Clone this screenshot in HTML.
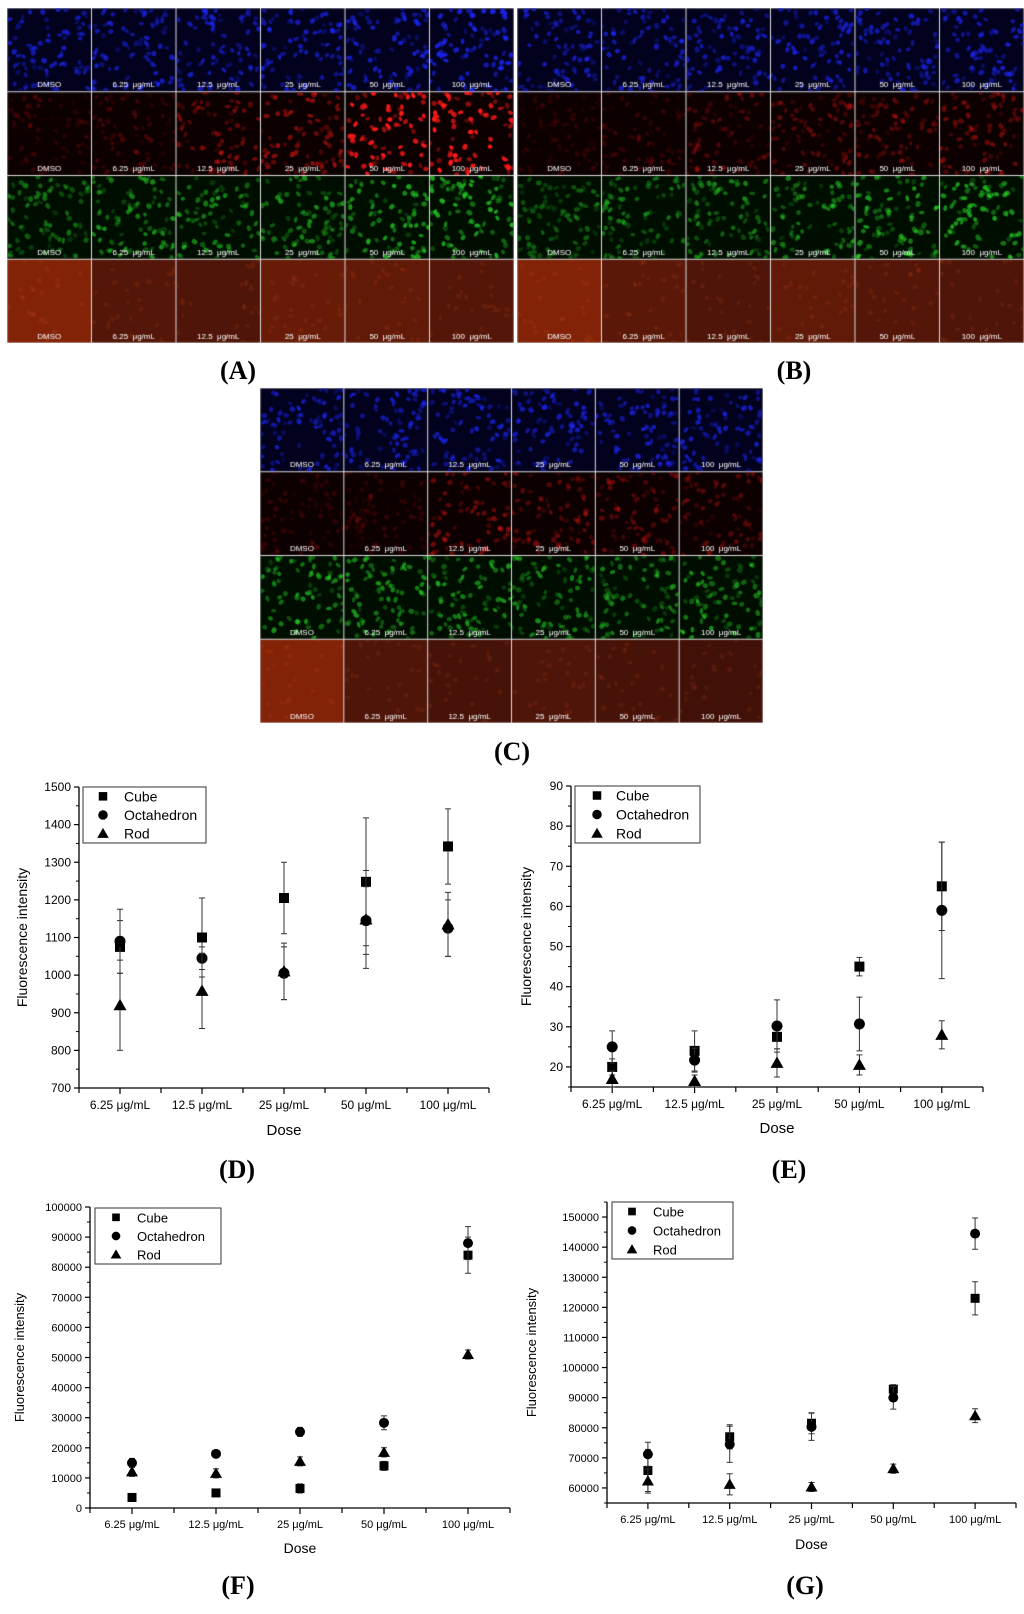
<!DOCTYPE html>
<html><head><meta charset="utf-8">
<style>
html,body{margin:0;padding:0;background:#fff;}
#root{position:relative;width:1024px;height:1614px;overflow:hidden;background:#fff;}
canvas{position:absolute;}
.lbl{position:absolute;font-family:"Liberation Serif",serif;font-weight:bold;font-size:26px;color:#000;transform:translateX(-50%);}
svg{position:absolute;left:0;top:0;}
</style></head>
<body>
<div id="root">
<canvas id="gA" style="left:7px;top:8px" width="507" height="335"></canvas>
<canvas id="gB" style="left:517px;top:8px" width="507" height="335"></canvas>
<canvas id="gC" style="left:260px;top:388px" width="503" height="335"></canvas>
<div class="lbl" style="left:238px;top:356px">(A)</div>
<div class="lbl" style="left:794px;top:356px">(B)</div>
<div class="lbl" style="left:512px;top:737px">(C)</div>
<div class="lbl" style="left:237px;top:1155px">(D)</div>
<div class="lbl" style="left:789px;top:1155px">(E)</div>
<div class="lbl" style="left:238px;top:1571px">(F)</div>
<div class="lbl" style="left:805px;top:1571px">(G)</div>
<svg id="charts" width="1024" height="1614"></svg>
</div>
<script>
// ---------- chart data ----------
const categories = ["6.25 μg/mL","12.5 μg/mL","25 μg/mL","50 μg/mL","100 μg/mL"];
const seriesNames = ["Cube","Octahedron","Rod"];
// Chart D
const dCube = [1075,1100,1205,1248,1342];
const dCubeErr = [70,105,95,170,100];
const dOcta = [1090,1045,1005,1145,1125];
const dOctaErr = [85,30,70,90,75];
const dRod = [920,958,1010,1148,1135];
const dRodErr = [120,100,75,130,85];
const dTicks = [700,800,900,1000,1100,1200,1300,1400,1500];
// Chart E
const eCube = [20,24,27.5,45,65];
const eCubeErr = [2,5,3,2.3,11];
const eOcta = [25,21.7,30.2,30.7,59];
const eOctaErr = [4,3,6.5,6.7,17];
const eRod = [17,16.5,21,20.5,28];
const eRodErr = [2,1.5,3.5,2.5,3.5];
const eTicks = [20,30,40,50,60,70,80,90];
// Chart F
const fCube = [3500,5000,6500,14000,84000];
const fCubeErr = [1000,1200,1500,1500,6000];
const fOcta = [15000,18000,25300,28300,88000];
const fOctaErr = [1500,1000,1500,2300,5500];
const fRod = [12000,11500,15500,18500,51000];
const fRodErr = [1500,1500,1500,1500,1500];
const fTicks = [0,10000,20000,30000,40000,50000,60000,70000,80000,90000,100000];
// Chart G
const gCube = [65800,77000,81500,92800,123000];
const gCubeErr = [7000,4000,3500,1500,5500];
const gOcta = [71200,74500,80300,90000,144500];
const gOctaErr = [4000,6000,4500,3800,5200];
const gRod = [62300,61200,60300,66400,84000];
const gRodErr = [4000,3500,1500,1500,2300];
const gTicks = [60000,70000,80000,90000,100000,110000,120000,130000,140000,150000];

const NS="http://www.w3.org/2000/svg";
const svg=document.getElementById('charts');
function mk(tag,attrs,parent){const e=document.createElementNS(NS,tag);for(const k in attrs)e.setAttribute(k,attrs[k]);(parent||svg).appendChild(e);return e;}

function chart(id,L,R,T,B,ymin,ymax,ticks,minorStep,cube,cubeE,octa,octaE,rod,rodE,o){
  const g=mk('g',{});
  
  
  const fs=o.fs, ff=o.narrow?'"Liberation Sans Narrow","Liberation Sans",sans-serif':'"Liberation Sans",sans-serif';
  const y=v=>B-(v-ymin)/(ymax-ymin)*(B-T);
  const band=(R-L)/categories.length;
  const x=i=>L+band*(i+0.5);
  const ax=mk('path',{d:`M${L},${T}V${B}H${R}`,stroke:'#000','stroke-width':1.3,fill:'none'},g);
  
  
  ticks.forEach(t=>{
    const yy=y(t);
    mk('line',{x1:L-5,x2:L,y1:yy,y2:yy,stroke:'#000','stroke-width':1.2},g);
    const tx=mk('text',{x:L-8,y:yy+4,'text-anchor':'end','font-size':fs,'font-family':ff,fill:'#000'},g);
    tx.textContent=t;
    
    
  });
  for(let v=Math.ceil(ymin/minorStep)*minorStep; v<=ymax+1e-9; v+=minorStep){
    if(ticks.some(t=>Math.abs(t-v)<1e-6))continue;
    const yy=y(v);mk('line',{x1:L-3,x2:L,y1:yy,y2:yy,stroke:'#000','stroke-width':1},g);
  }
  for(let i=0;i<=categories.length;i++){const xx=L+band*i;mk('line',{x1:xx,x2:xx,y1:B,y2:B+5,stroke:'#000','stroke-width':1.2},g);}
  categories.forEach((c,i)=>{
    mk('line',{x1:x(i),x2:x(i),y1:B,y2:B+6,stroke:'#000','stroke-width':1.2},g);
    const tx=mk('text',{x:x(i),y:B+o.tickDy,'text-anchor':'middle','font-size':fs,'font-family':ff,fill:'#000'},g);
    tx.textContent=c;
    
    
  });
  const xt=mk('text',{x:(L+R)/2,y:B+o.titleDy,'text-anchor':'middle','font-size':fs+3,'font-family':ff,fill:'#000'},g);
  xt.textContent='Dose';
  
  
  const yt=mk('text',{x:0,y:0,transform:`translate(${o.ytx},${(T+B)/2}) rotate(-90)`,'text-anchor':'middle','font-size':fs+2,'font-family':ff,fill:'#000'},g);
  yt.textContent='Fluorescence intensity';
  
  
  const ser=[[cube,cubeE,'sq'],[octa,octaE,'ci'],[rod,rodE,'tr']];
  ser.forEach(([vals,errs,shape],si)=>{
    vals.forEach((v,i)=>{
      const cx=x(i),cy=y(v),hi=y(v+errs[i]),lo=y(Math.max(v-errs[i],ymin));
      const eb=mk('path',{d:`M${cx},${hi}V${lo}M${cx-3},${hi}H${cx+3}M${cx-3},${y(v-errs[i])}H${cx+3}`,stroke:'#333','stroke-width':1},g);
      
      
      marker(g,shape,cx,cy,o.ms);
    });
  });
  const [lx,ly,lw,lh]=o.leg;
  const lb=mk('rect',{x:lx,y:ly,width:lw,height:lh,fill:'#fff',stroke:'#333','stroke-width':1},g);
  
  
  ['sq','ci','tr'].forEach((s,k)=>{
    const yy=ly+lh*(k+0.5)/3;
    marker(g,s,lx+o.legM,yy,o.ms*0.85);
    const tx=mk('text',{x:lx+o.legT,y:yy+5,'font-size':fs+2,'font-family':ff,fill:'#000'},g);
    tx.textContent=seriesNames[k];
    
    
  });
}
function marker(g,s,cx,cy,r){
  let m;
  if(s==='sq')m=mk('rect',{x:cx-r,y:cy-r,width:2*r,height:2*r,fill:'#000'},g);
  else if(s==='ci')m=mk('circle',{cx:cx,cy:cy,r:r+0.5,fill:'#000'},g);
  else m=mk('path',{d:`M${cx},${cy-r-1.5}L${cx+r+1.5},${cy+r}L${cx-r-1.5},${cy+r}Z`,fill:'#000'},g);
  
  
}
chart('d',79,489,787,1088,700,1500,dTicks,50,dCube,dCubeErr,dOcta,dOctaErr,dRod,dRodErr,
  {fs:12,tickDy:21,titleDy:47,ytx:27,ms:5,leg:[83,787,123,56],legM:20,legT:41});
chart('e',571,983,786,1087,15,90,eTicks,5,eCube,eCubeErr,eOcta,eOctaErr,eRod,eRodErr,
  {fs:12,tickDy:21,titleDy:46,ytx:531,ms:5,leg:[575,786,125,57],legM:22,legT:41});
chart('f',90,510,1207,1508,0,100000,fTicks,5000,fCube,fCubeErr,fOcta,fOctaErr,fRod,fRodErr,
  {fs:11,narrow:true,tickDy:20,titleDy:45,ytx:24,ms:4.5,leg:[95,1208,126,56],legM:21,legT:42});
chart('g',607,1016,1202,1503,55000,155000,gTicks,5000,gCube,gCubeErr,gOcta,gOctaErr,gRod,gRodErr,
  {fs:11,narrow:true,tickDy:20,titleDy:46,ytx:536,ms:4.5,leg:[612,1202,121,57],legM:20,legT:41});

// ---------- micrograph textures ----------
let seed=12345;function rnd(){seed=(seed*1103515245+12345)&0x7fffffff;return seed/0x7fffffff;}
const labels=["DMSO","6.25  μg/mL","12.5  μg/mL","25  μg/mL","50  μg/mL","100  μg/mL"];
function drawGrid(id,rowsB){
  const c=document.getElementById(id),ctx=c.getContext('2d');
  const W=c.width,H=c.height,tw=W/6,th=H/4;
  ctx.fillStyle='#ddd';ctx.fillRect(0,0,W,H);
  const bases=[[2,2,30],[12,0,0],[0,14,0],[130,35,8]];
  const dots=[[30,40,255],[255,25,25],[40,220,40],[230,90,30]];
  for(let r=0;r<4;r++)for(let k=0;k<6;k++){
    const x0=k*tw+0.5,y0=r*th+0.5,w=tw-1,h=th-1,b=rowsB[r][k];
    const bs=bases[r];
    ctx.fillStyle=`rgb(${bs[0]*(r==3?b:1)|0},${bs[1]*(r==3?b:1)|0},${bs[2]})`;
    ctx.fillRect(x0,y0,w,h);
    ctx.save();ctx.beginPath();ctx.rect(x0,y0,w,h);ctx.clip();
    const n=r==3?25:80;
    for(let i=0;i<n;i++){
      const a=(r==3?0.12:(0.2+0.5*rnd()))*(r==3?1:b);
      const d=dots[r];
      ctx.fillStyle=`rgba(${d[0]},${d[1]},${d[2]},${Math.min(1,a)})`;
      ctx.beginPath();ctx.ellipse(x0+rnd()*w,y0+rnd()*h,1.6+rnd(),2.2+rnd(),rnd()*3,0,7);ctx.fill();
    }
    ctx.restore();
    ctx.fillStyle='#fff';ctx.font='8px "Liberation Sans",sans-serif';ctx.textAlign='center';
    ctx.fillText(labels[k],x0+w/2,y0+h-4);
  }
}
drawGrid('gA',[[1,1,1,1,1.1,1.2],[0.25,0.3,0.6,0.8,1.5,1.6],[0.7,0.9,0.8,0.9,1,1.1],[1,0.65,0.6,0.8,0.75,0.65]]);
drawGrid('gB',[[1,1,1,1,1,1],[0.2,0.25,0.4,0.5,0.5,0.6],[0.6,0.7,0.8,0.8,1,1],[1,0.7,0.6,0.75,0.65,0.6]]);
drawGrid('gC',[[1,1,1,1,1,1],[0.25,0.25,0.6,0.5,0.5,0.45],[0.9,0.9,0.9,0.8,0.8,0.9],[1,0.6,0.55,0.6,0.55,0.5]]);
</script>
</body></html>
